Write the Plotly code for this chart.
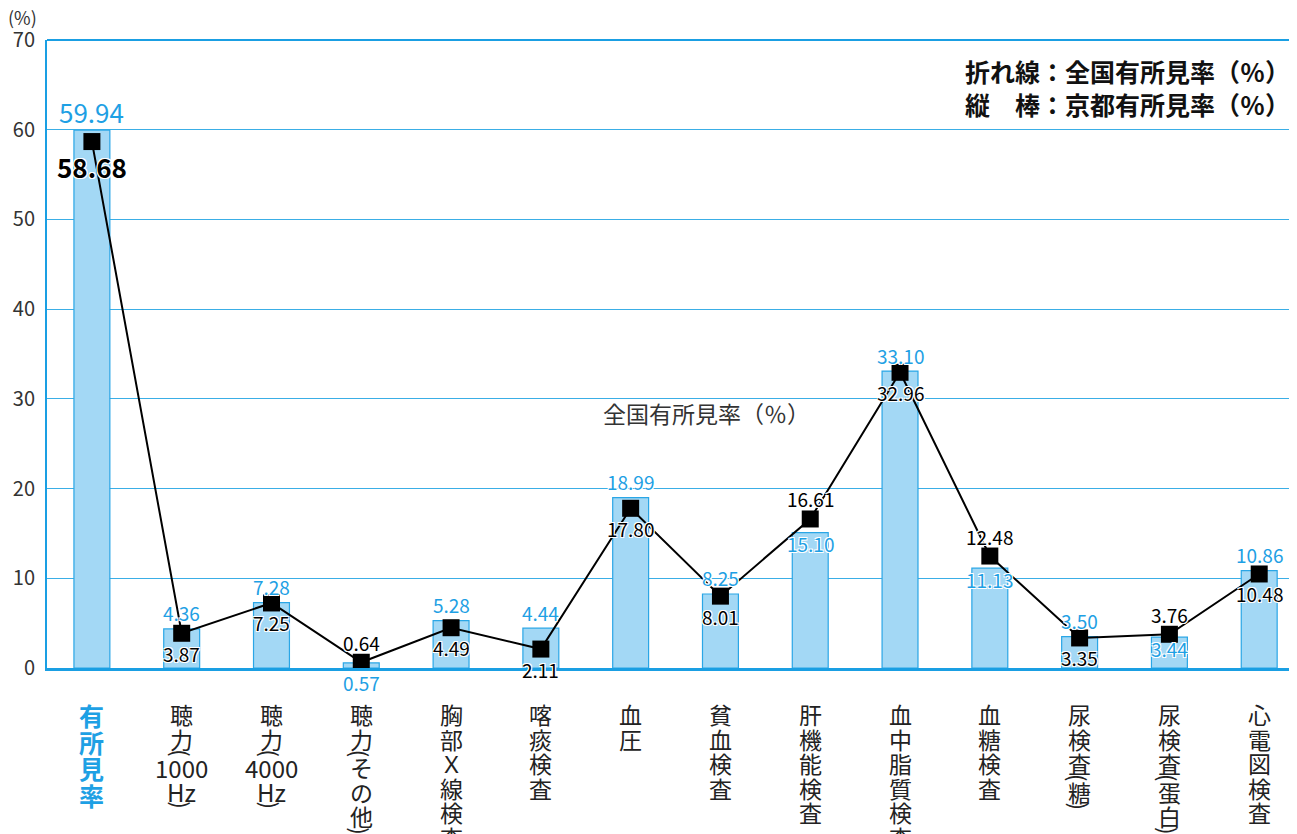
import plotly.graph_objects as go

categories = ["有所見率", "聴力(1000Hz)", "聴力(4000Hz)", "聴力(その他)", "胸部X線検査", "喀痰検査", "血圧",
              "貧血検査", "肝機能検査", "血中脂質検査", "血糖検査", "尿検査(糖)", "尿検査(蛋白)", "心電図検査"]
# vertical label tokens for each category (top to bottom)
tick_labels = [
    ["有", "所", "見", "率"],
    ["聴", "力", "(", "1000", "Hz", ")"],
    ["聴", "力", "(", "4000", "Hz", ")"],
    ["聴", "力", "(", "そ", "の", "他", ")"],
    ["胸", "部", "Ｘ", "線", "検", "査"],
    ["喀", "痰", "検", "査"],
    ["血", "圧"],
    ["貧", "血", "検", "査"],
    ["肝", "機", "能", "検", "査"],
    ["血", "中", "脂", "質", "検", "査"],
    ["血", "糖", "検", "査"],
    ["尿", "検", "査", "(", "糖", ")"],
    ["尿", "検", "査", "(", "蛋", "白", ")"],
    ["心", "電", "図", "検", "査"],
]
kyoto = [59.94, 4.36, 7.28, 0.57, 5.28, 4.44, 18.99, 8.25, 15.10, 33.10, 11.13, 3.50, 3.44, 10.86]
national = [58.68, 3.87, 7.25, 0.64, 4.49, 2.11, 17.80, 8.01, 16.61, 32.96, 12.48, 3.35, 3.76, 10.48]
y_ticks = [0, 10, 20, 30, 40, 50, 60, 70]

FONT = "Noto Sans CJK JP"
BLUE = "#1ea0e4"
BAR_FILL = "#a3d8f5"
BAR_LINE = "#2aa6e6"
HALO = "1px 1px 0px white, -1px -1px 0px white, 1px -1px 0px white, -1px 1px 0px white"

x = list(range(len(categories)))

fig = go.Figure()
fig.add_trace(go.Bar(x=x, y=kyoto, width=0.4,
                     marker=dict(color=BAR_FILL, line=dict(color=BAR_LINE, width=1.2)),
                     hoverinfo="skip"))
fig.add_trace(go.Scatter(x=x, y=national, mode="lines+markers",
                         line=dict(color="black", width=2),
                         marker=dict(symbol="square", size=17, color="black"),
                         hoverinfo="skip"))

ann = []
for i, (k, n) in enumerate(zip(kyoto, national)):
    first = (i == 0)
    size = 26 if first else 19
    if k >= n:
        kshift = 19 if first else 16
        nshift = -25 if first else -20
    else:
        kshift = -20 if k < 2 else -11
        nshift = 20
    ann.append(dict(x=i, y=k, xref="x", yref="y", text=f"{k:.2f}", showarrow=False,
                    yanchor="middle", yshift=kshift,
                    font=dict(family=FONT, size=size, color=BLUE, shadow=HALO)))
    ann.append(dict(x=i, y=n, xref="x", yref="y", text=f"{n:.2f}", showarrow=False,
                    yanchor="middle", yshift=nshift,
                    font=dict(family=FONT, size=size, color="black",
                              weight="bold" if first else "normal", shadow=HALO)))

# vertical category labels, one token per annotation, stacked downward
for i, parts in enumerate(tick_labels):
    first = (i == 0)
    offset = 34.0  # px below plot bottom to top of first glyph
    for tok in parts:
        if tok in ("(", ")"):
            h = 4.0
        elif len(tok) > 1 or tok.isascii():
            h = 24.0
        else:
            h = 26.5 if first else 24.5
        center = offset + h / 2
        if tok in ("(", ")"):
            ann.append(dict(x=i, y=0, xref="x", yref="paper", yanchor="middle",
                            yshift=-center, text=tok, textangle=90, showarrow=False,
                            font=dict(family=FONT, size=22, color="#222")))
        else:
            ann.append(dict(x=i, y=0, xref="x", yref="paper", yanchor="middle",
                            yshift=-center, text=tok, showarrow=False,
                            font=dict(family=FONT,
                                      size=25 if first else (24 if tok.isascii() else 23),
                                      color=BLUE if first else "#222",
                                      weight="bold" if first else "normal")))
        offset += h

# in-plot series label
ann.append(dict(x=6.84, y=28.4, xref="x", yref="y", text="全国有所見率（％）", showarrow=False,
                font=dict(family=FONT, size=23, color="#333")))
# legend text (two lines)
for j, line in enumerate(["折れ線：全国有所見率（％）", "縦　棒：京都有所見率（％）"]):
    ann.append(dict(x=1, y=1, xref="paper", yref="paper", xanchor="right", yanchor="middle",
                    xshift=-13, yshift=-(31 + 33 * j), text=line, showarrow=False,
                    font=dict(family=FONT, size=25, color="#111", weight="bold")))
# unit label
ann.append(dict(x=0, y=1, xref="paper", yref="paper", xanchor="center", yanchor="middle",
                xshift=-25, yshift=23, text="(%)", showarrow=False,
                font=dict(family=FONT, size=18, color="#333")))

fig.update_layout(
    width=1297, height=834,
    margin=dict(l=39, r=0, t=32, b=174),
    paper_bgcolor="white", plot_bgcolor="white",
    showlegend=False,
    annotations=ann,
    xaxis=dict(range=[-0.5, 13.51], showticklabels=False, showgrid=False, zeroline=False,
               showline=True, linecolor="#1a9fe3", linewidth=3, ticks="", automargin=False),
    yaxis=dict(range=[0, 70], tickvals=y_ticks, showgrid=True, gridcolor="#3aaee6", gridwidth=1,
               zeroline=False, showline=True, linecolor="#1a9fe3", linewidth=2,
               ticks="", ticklabelstandoff=6, automargin=False,
               tickfont=dict(family=FONT, size=20, color="#333")),
    shapes=[dict(type="line", xref="paper", yref="paper", x0=0, x1=1, y0=1, y1=1,
                 line=dict(color="#1a9fe3", width=2))],
)

fig.write_html("out.html")
